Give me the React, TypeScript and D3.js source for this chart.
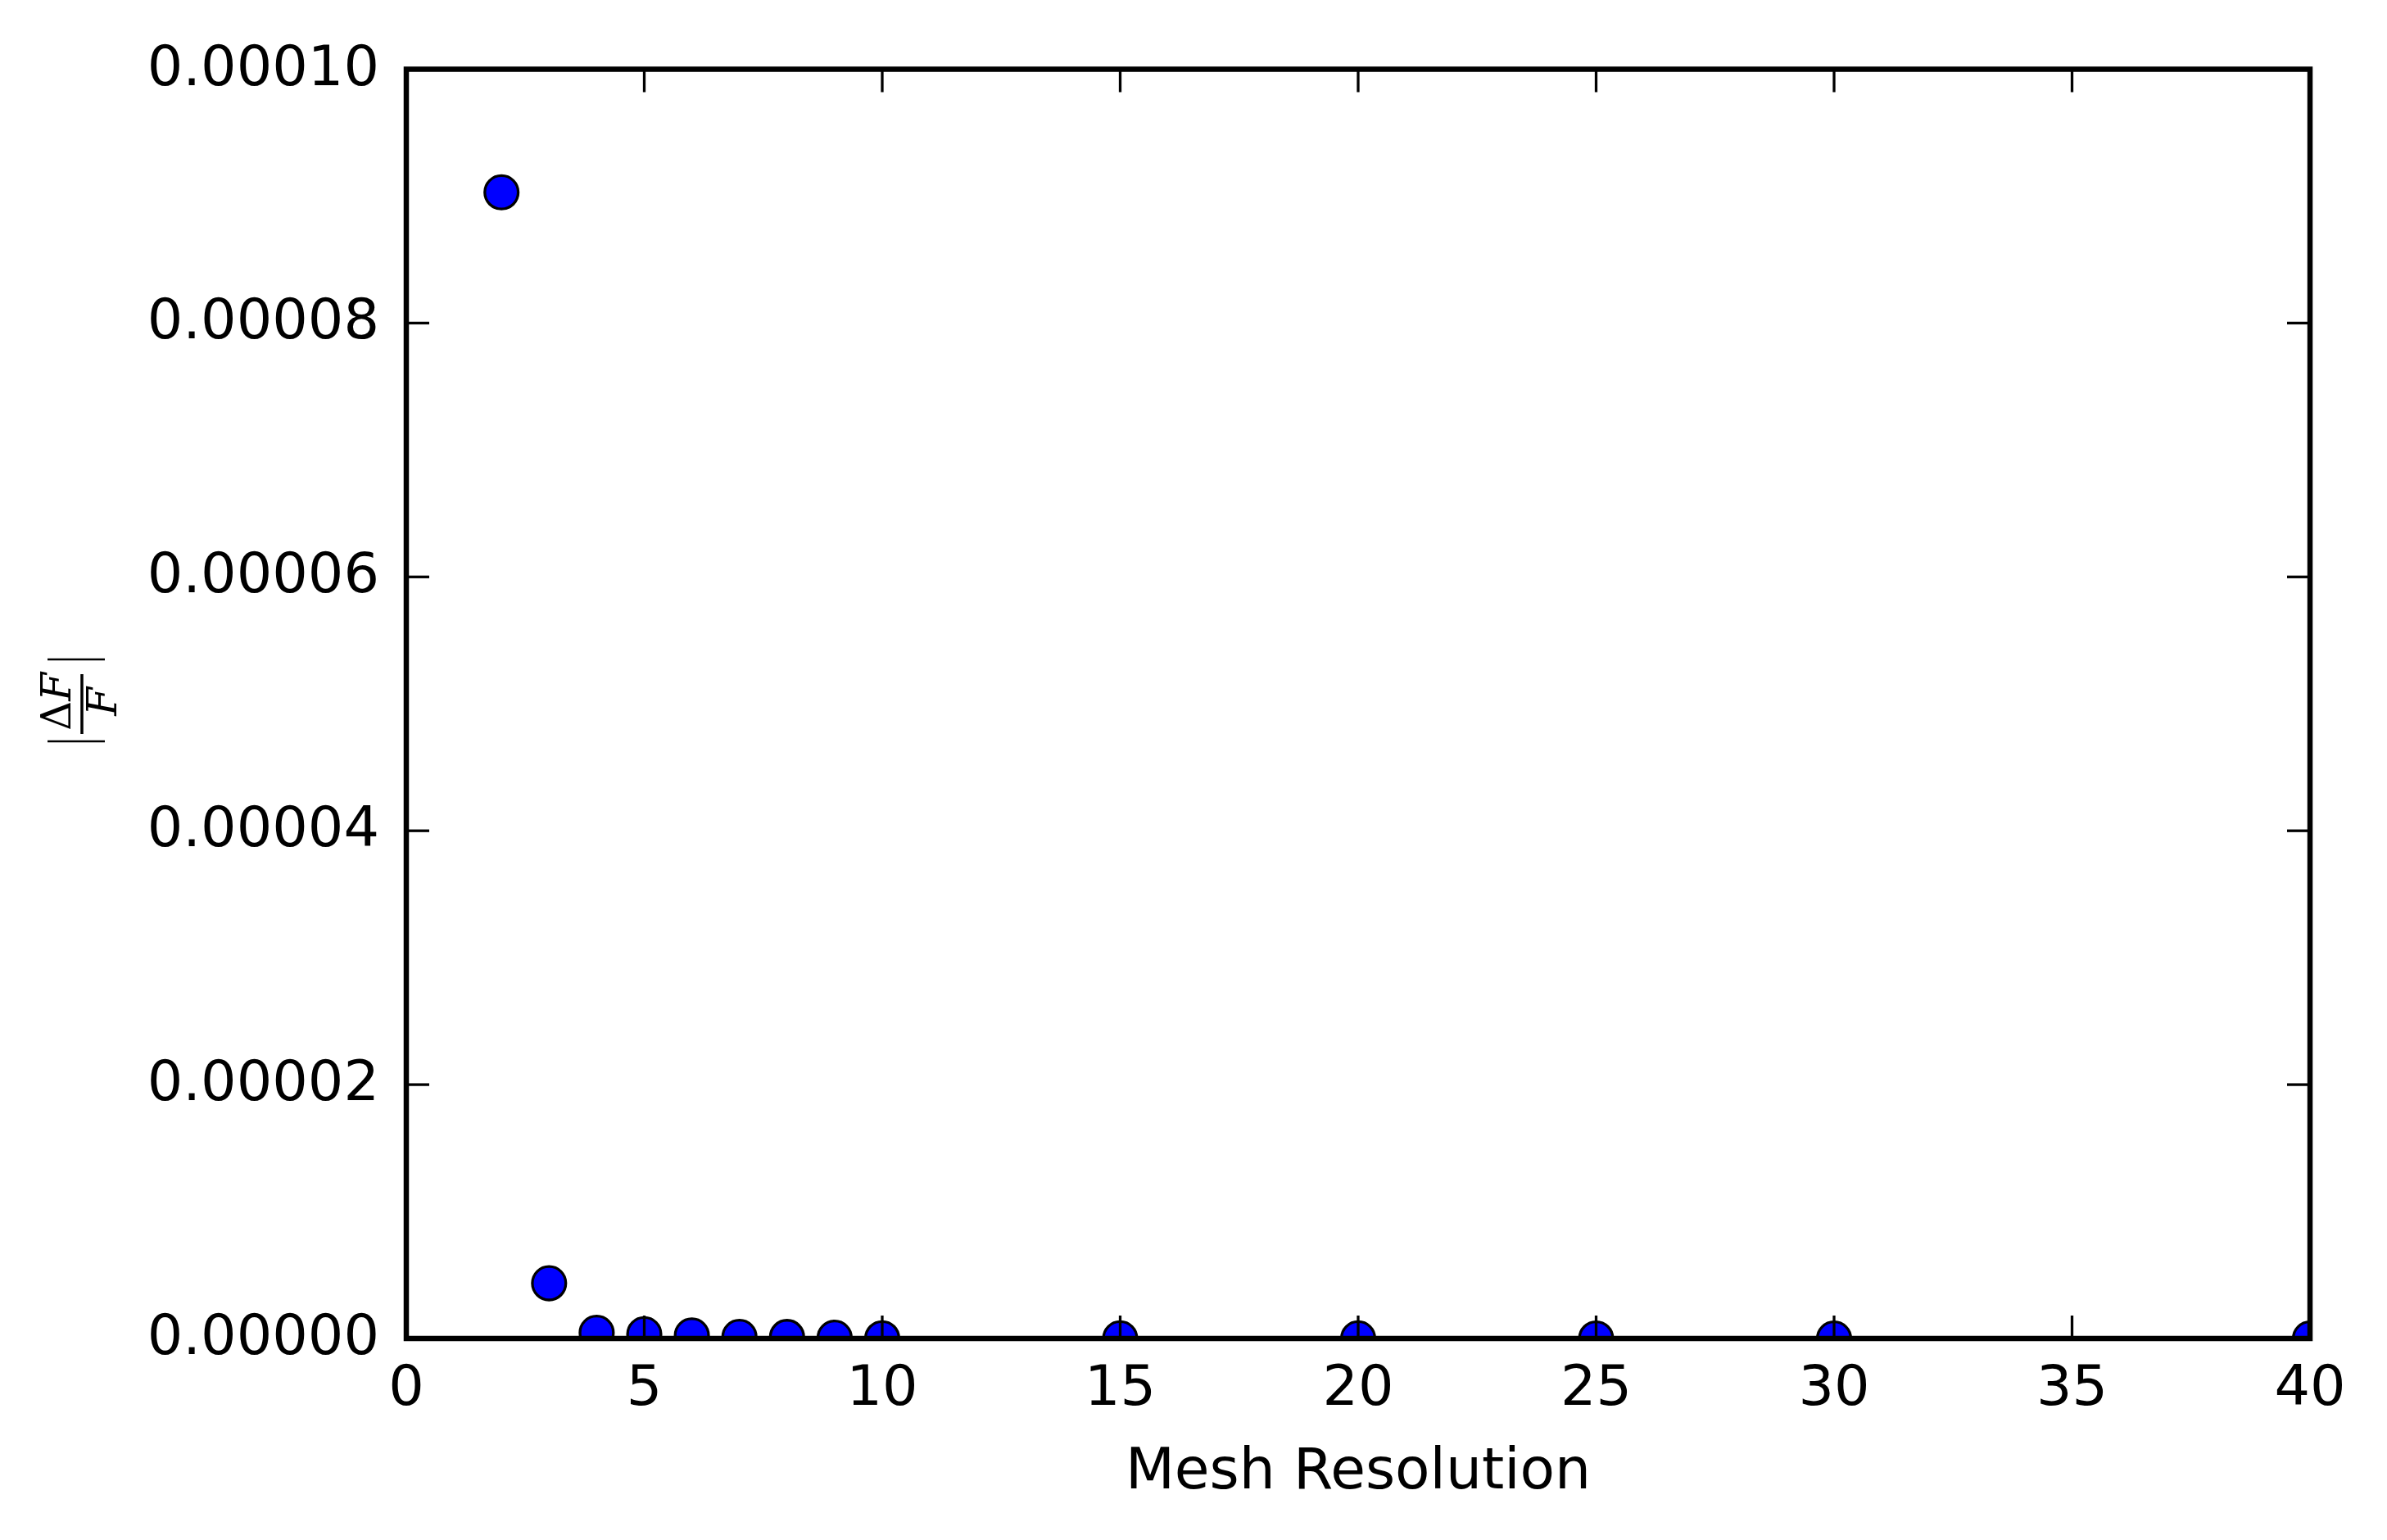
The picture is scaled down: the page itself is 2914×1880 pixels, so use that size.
import React from "react";
import * as d3 from "d3";

const resolution = [2, 3, 4, 5, 6, 7, 8, 9, 10, 15, 20, 25, 30, 40];
const relError = [
  9.03e-5, 4.35e-6, 4.5e-7, 3.4e-7, 2.4e-7, 1.3e-7, 1.2e-7, 6.5e-8, 2e-8,
  1.5e-8, 1e-8, 3e-9, 2e-9, 1e-9,
];
const xTicks = [0, 5, 10, 15, 20, 25, 30, 35, 40];
const yTicks = [0, 2e-5, 4e-5, 6e-5, 8e-5, 1e-4];
const yTickLabels = ["0.00000", "0.00002", "0.00004", "0.00006", "0.00008", "0.00010"];
const xLabel = "Mesh Resolution";

const W = 2914;
const H = 1880;
const left = 496;
const right = 2820;
const top = 84.5;
const bottom = 1634;
const FONT = "'DejaVu Sans', sans-serif";
const FS = 68.5;
const TICK = 28;

export default function App() {
  const x = d3.scaleLinear().domain([0, 40]).range([left, right]);
  const y = d3.scaleLinear().domain([0, 1e-4]).range([bottom, top]);

  return (
    <svg
      width={W}
      height={H}
      viewBox={`0 0 ${W} ${H}`}
      style={{ position: "absolute", left: 0, top: 0, background: "#fff" }}
    >
      <defs>
        <clipPath id="plotClip">
          <rect x={left} y={top} width={right - left} height={bottom - top} />
        </clipPath>
      </defs>
      <rect x={0} y={0} width={W} height={H} fill="#fff" />

      {/* markers */}
      <g clipPath="url(#plotClip)">
        {resolution.map((r, i) => (
          <circle
            key={i}
            cx={x(r)}
            cy={y(relError[i])}
            r={20.4}
            fill="#0000ff"
            stroke="#000"
            strokeWidth={3.3}
          />
        ))}
      </g>

      {/* ticks (inward, all four sides) */}
      <g stroke="#000" strokeWidth={3.3}>
        {xTicks.map((t) => (
          <g key={"xt" + t}>
            <line x1={x(t)} x2={x(t)} y1={bottom} y2={bottom - TICK} />
            <line x1={x(t)} x2={x(t)} y1={top} y2={top + TICK} />
          </g>
        ))}
        {yTicks.map((t) => (
          <g key={"yt" + t}>
            <line x1={left} x2={left + TICK} y1={y(t)} y2={y(t)} />
            <line x1={right} x2={right - TICK} y1={y(t)} y2={y(t)} />
          </g>
        ))}
      </g>

      {/* frame */}
      <rect
        x={left}
        y={top}
        width={right - left}
        height={bottom - top}
        fill="none"
        stroke="#000"
        strokeWidth={6.5}
      />

      {/* tick labels */}
      <g fontFamily={FONT} fontSize={FS} fill="#000">
        {xTicks.map((t) => (
          <text key={"xl" + t} x={x(t)} y={1715} textAnchor="middle">
            {String(t)}
          </text>
        ))}
        {yTicks.map((t, i) => (
          <text key={"yl" + t} x={463} y={y(t) + 19} textAnchor="end">
            {yTickLabels[i]}
          </text>
        ))}
      </g>

      {/* x label */}
      <text
        x={(left + right) / 2}
        y={1816.5}
        textAnchor="middle"
        fontFamily={FONT}
        fontSize={69.5}
        fill="#000"
      >
        {xLabel}
      </text>

      {/* y label: |ΔF / F| rotated */}
      <g transform="translate(100,855) rotate(-90)">
        <line x1={50} x2={50} y1={-42} y2={28} stroke="#000" strokeWidth={2.5} />
        <line x1={-50} x2={-50} y1={-42} y2={28} stroke="#000" strokeWidth={2.5} />
        <line x1={-41} x2={32} y1={0} y2={0} stroke="#000" strokeWidth={3.5} />
        <text
          x={-1.5}
          y={-14}
          textAnchor="middle"
          fontFamily="'DejaVu Serif', 'Liberation Serif', serif"
          fontSize={50}
          fill="#000"
        >
          Δ<tspan fontStyle="italic">F</tspan>
        </text>
        <text
          x={-1.5}
          y={42}
          textAnchor="middle"
          fontFamily="'DejaVu Serif', 'Liberation Serif', serif"
          fontSize={50}
          fontStyle="italic"
          fill="#000"
        >
          F
        </text>
      </g>
    </svg>
  );
}
